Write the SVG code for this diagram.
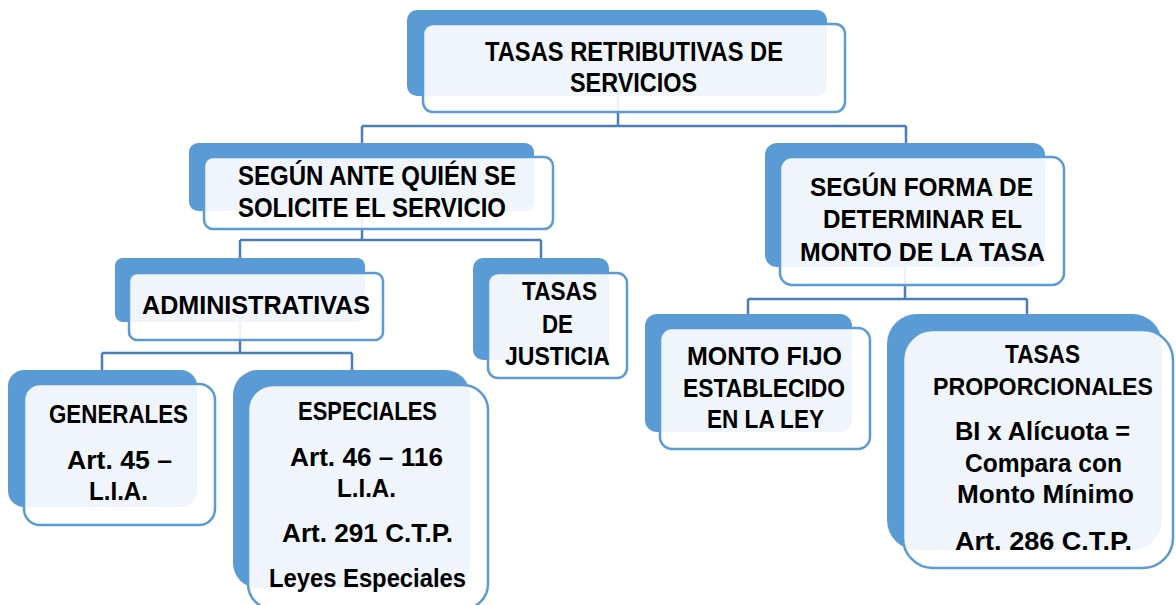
<svg xmlns="http://www.w3.org/2000/svg" width="1176" height="605" viewBox="0 0 1176 605">
<style>
.bk{fill:#5b9bd5}
.fr{fill:#ffffff;fill-opacity:0.9;stroke:#5b9bd5;stroke-width:2.5}
.c{fill:none;stroke:#4a7ebb;stroke-width:2.5}
text{font-family:"Liberation Sans",Arial,sans-serif;font-weight:bold;font-size:26px;fill:#000}
.t27{font-size:27px}
.t23{font-size:23.5px}
</style>
<rect width="1176" height="605" fill="#ffffff"/>
<g id="connectors">
<path class="c" d="M618 96V126M362 126H906M362 126V143M906 126V143"/>
<path class="c" d="M362 211V240M240 240H541M240 240V258M541 240V258"/>
<path class="c" d="M905 267V299M748 299H1027M748 299V314M1027 299V314"/>
<path class="c" d="M240 322V353M102 353H352M102 353V370M352 353V370"/>
</g>
<g id="n-top">
<rect class="bk" x="407" y="10" width="420" height="86" rx="10"/>
<rect class="fr" x="423" y="24" width="422" height="88" rx="10"/>
<text class="t27" x="485" y="61" textLength="298" lengthAdjust="spacingAndGlyphs">TASAS RETRIBUTIVAS DE</text>
<text class="t27" x="570" y="92" textLength="127" lengthAdjust="spacingAndGlyphs">SERVICIOS</text>
</g>
<g id="n-ante">
<rect class="bk" x="189" y="143" width="345" height="68" rx="9"/>
<rect class="fr" x="204" y="157" width="349" height="72" rx="9"/>
<text class="t27" x="238" y="185" textLength="278" lengthAdjust="spacingAndGlyphs">SEGÚN ANTE QUIÉN SE</text>
<text class="t27" x="238" y="217" textLength="268" lengthAdjust="spacingAndGlyphs">SOLICITE EL SERVICIO</text>
</g>
<g id="n-forma">
<rect class="bk" x="765" y="143" width="280" height="124" rx="12"/>
<rect class="fr" x="780" y="157" width="284" height="128" rx="12"/>
<text x="810" y="196" textLength="223" lengthAdjust="spacingAndGlyphs">SEGÚN FORMA DE</text>
<text x="823" y="228" textLength="199" lengthAdjust="spacingAndGlyphs">DETERMINAR EL</text>
<text x="800" y="261" textLength="245" lengthAdjust="spacingAndGlyphs">MONTO DE LA TASA</text>
</g>
<g id="n-admin">
<rect class="bk" x="115" y="258" width="250" height="64" rx="8"/>
<rect class="fr" x="129" y="273" width="254" height="67" rx="8"/>
<text x="142" y="314" textLength="228" lengthAdjust="spacingAndGlyphs">ADMINISTRATIVAS</text>
</g>
<g id="n-justicia">
<rect class="bk" x="473" y="258" width="136" height="102" rx="10"/>
<rect class="fr" x="488" y="273" width="139" height="105" rx="10"/>
<text x="522" y="300" textLength="75" lengthAdjust="spacingAndGlyphs">TASAS</text>
<text x="542" y="333" textLength="31" lengthAdjust="spacingAndGlyphs">DE</text>
<text x="505" y="365" textLength="105" lengthAdjust="spacingAndGlyphs">JUSTICIA</text>
</g>
<g id="n-generales">
<rect class="bk" x="8" y="370" width="189" height="137" rx="16"/>
<rect class="fr" x="24" y="384" width="191" height="141" rx="16"/>
<text x="49" y="423" textLength="139" lengthAdjust="spacingAndGlyphs">GENERALES</text>
<text x="67" y="469" textLength="105" lengthAdjust="spacingAndGlyphs">Art. 45 –</text>
<text x="89" y="500" textLength="59" lengthAdjust="spacingAndGlyphs">L.I.A.</text>
</g>
<g id="n-especiales">
<rect class="bk" x="233" y="370" width="237" height="218" rx="25"/>
<rect class="fr" x="248" y="385" width="240" height="224" rx="25"/>
<text x="298" y="420" textLength="139" lengthAdjust="spacingAndGlyphs">ESPECIALES</text>
<text x="290" y="466" textLength="153" lengthAdjust="spacingAndGlyphs">Art. 46 – 116</text>
<text x="337" y="497" textLength="59" lengthAdjust="spacingAndGlyphs">L.I.A.</text>
<text x="282" y="542" textLength="171" lengthAdjust="spacingAndGlyphs">Art. 291 C.T.P.</text>
<text x="269" y="587" textLength="197" lengthAdjust="spacingAndGlyphs">Leyes Especiales</text>
</g>
<g id="n-fijo">
<rect class="bk" x="645" y="314" width="207" height="118" rx="12"/>
<rect class="fr" x="660" y="328" width="210" height="121" rx="12"/>
<text x="687" y="365" textLength="155" lengthAdjust="spacingAndGlyphs">MONTO FIJO</text>
<text x="683" y="397" textLength="162" lengthAdjust="spacingAndGlyphs">ESTABLECIDO</text>
<text x="707" y="428" textLength="117" lengthAdjust="spacingAndGlyphs">EN LA LEY</text>
</g>
<g id="n-proporcionales">
<rect class="bk" x="887" y="314" width="275" height="236" rx="30"/>
<rect class="fr" x="903" y="330" width="270" height="238" rx="30"/>
<text x="1005" y="363" textLength="75" lengthAdjust="spacingAndGlyphs">TASAS</text>
<text class="t23" x="933" y="395" textLength="220" lengthAdjust="spacingAndGlyphs">PROPORCIONALES</text>
<text x="955" y="440" textLength="175" lengthAdjust="spacingAndGlyphs">BI x Alícuota =</text>
<text x="965" y="472" textLength="157" lengthAdjust="spacingAndGlyphs">Compara con</text>
<text x="957" y="503" textLength="177" lengthAdjust="spacingAndGlyphs">Monto Mínimo</text>
<text x="955" y="550" textLength="177" lengthAdjust="spacingAndGlyphs">Art. 286 C.T.P.</text>
</g>
</svg>
